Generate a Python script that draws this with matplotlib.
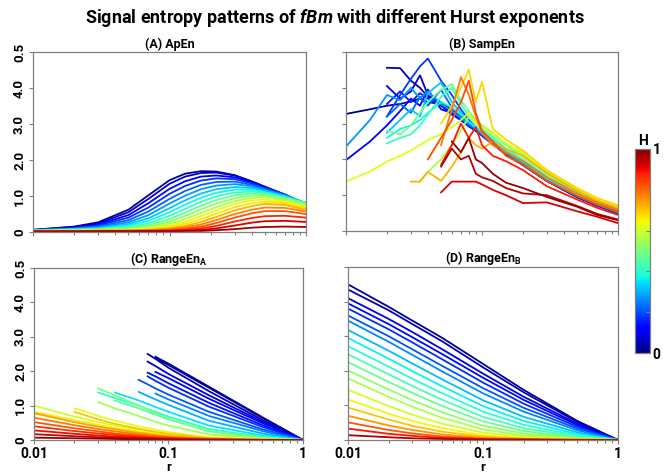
import numpy as np
import matplotlib.pyplot as plt
from matplotlib import colors, cm

plt.rcParams['font.family'] = ['Roboto', 'DejaVu Sans']
plt.rcParams['font.weight'] = 'bold'
plt.rcParams['mathtext.fontset'] = 'custom'
plt.rcParams['mathtext.rm'] = 'Roboto:bold'
plt.rcParams['mathtext.bf'] = 'Roboto:bold'
plt.rcParams['mathtext.it'] = 'Roboto:italic:bold'

n = np.nan

# (A) ApEn
r_apen = [0.01, 0.02, 0.03, 0.05, 0.07, 0.1, 0.13, 0.17, 0.22, 0.3, 0.4, 0.5, 0.7, 1.0]
h_apen = [0.02, 0.07, 0.12, 0.17, 0.22, 0.27, 0.32, 0.37, 0.42, 0.47,
          0.52, 0.57, 0.62, 0.67, 0.72, 0.77, 0.82, 0.87, 0.92, 0.97]
apen = [
    [0.06, 0.15, 0.27, 0.62, 1.02, 1.44, 1.62, 1.69, 1.68, 1.58, 1.40, 1.25, 1.02, 0.72],
    [0.06, 0.14, 0.24, 0.55, 0.92, 1.34, 1.54, 1.64, 1.65, 1.57, 1.41, 1.26, 1.04, 0.74],
    [0.05, 0.12, 0.21, 0.47, 0.80, 1.20, 1.41, 1.54, 1.57, 1.52, 1.38, 1.24, 1.04, 0.76],
    [0.05, 0.11, 0.18, 0.40, 0.68, 1.06, 1.28, 1.43, 1.49, 1.47, 1.35, 1.22, 1.04, 0.78],
    [0.05, 0.10, 0.15, 0.33, 0.57, 0.92, 1.14, 1.31, 1.39, 1.40, 1.31, 1.20, 1.03, 0.79],
    [0.05, 0.09, 0.13, 0.27, 0.47, 0.79, 1.01, 1.19, 1.29, 1.33, 1.27, 1.17, 1.02, 0.80],
    [0.04, 0.08, 0.11, 0.22, 0.38, 0.66, 0.88, 1.07, 1.19, 1.25, 1.22, 1.14, 1.00, 0.81],
    [0.04, 0.07, 0.09, 0.18, 0.31, 0.55, 0.76, 0.95, 1.09, 1.18, 1.17, 1.11, 0.98, 0.81],
    [0.04, 0.06, 0.08, 0.14, 0.24, 0.45, 0.64, 0.84, 0.99, 1.10, 1.12, 1.08, 0.96, 0.80],
    [0.04, 0.05, 0.07, 0.11, 0.19, 0.36, 0.54, 0.73, 0.89, 1.02, 1.07, 1.05, 0.94, 0.79],
    [0.03, 0.05, 0.06, 0.09, 0.15, 0.29, 0.45, 0.63, 0.79, 0.94, 1.01, 1.01, 0.92, 0.77],
    [0.03, 0.04, 0.05, 0.07, 0.12, 0.23, 0.36, 0.53, 0.69, 0.86, 0.95, 0.96, 0.88, 0.74],
    [0.03, 0.04, 0.05, 0.06, 0.09, 0.18, 0.29, 0.44, 0.60, 0.78, 0.88, 0.90, 0.84, 0.70],
    [0.03, 0.03, 0.04, 0.05, 0.07, 0.14, 0.23, 0.36, 0.51, 0.69, 0.80, 0.84, 0.80, 0.66],
    [0.03, 0.03, 0.04, 0.04, 0.06, 0.10, 0.17, 0.28, 0.42, 0.60, 0.72, 0.78, 0.75, 0.62],
    [0.02, 0.03, 0.03, 0.04, 0.05, 0.08, 0.13, 0.21, 0.33, 0.50, 0.62, 0.68, 0.67, 0.57],
    [0.02, 0.02, 0.03, 0.03, 0.04, 0.06, 0.09, 0.15, 0.25, 0.40, 0.52, 0.58, 0.58, 0.50],
    [0.02, 0.02, 0.02, 0.03, 0.03, 0.04, 0.06, 0.10, 0.17, 0.29, 0.39, 0.44, 0.45, 0.40],
    [0.02, 0.02, 0.02, 0.02, 0.03, 0.03, 0.04, 0.06, 0.10, 0.18, 0.26, 0.30, 0.31, 0.28],
    [0.01, 0.01, 0.02, 0.02, 0.02, 0.02, 0.03, 0.03, 0.05, 0.08, 0.12, 0.14, 0.15, 0.14],
]

# (B) SampEn
r_samp = [0.01, 0.015, 0.02, 0.025, 0.03, 0.035, 0.04, 0.05, 0.06, 0.07,
          0.08, 0.09, 0.1, 0.12, 0.15, 0.2, 0.3, 0.5, 0.7, 1.0]
h_samp = [0.02, 0.05, 0.08, 0.12, 0.15, 0.18, 0.22, 0.27, 0.32, 0.37, 0.42,
          0.48, 0.55, 0.62, 0.68, 0.72, 0.78, 0.83, 0.88, 0.92, 0.95, 0.98]
samp = [
    [3.27, 3.40, 3.50, 3.55, 3.62, 3.70, 3.60, 3.55, 3.30, 3.10, 2.95, 2.80, 2.70, 2.45, 2.15, 1.85, 1.40, 0.95, 0.72, 0.50],
    [n, n, 4.56, 4.55, 4.20, 4.00, 3.75, 3.60, 3.40, 3.20, 3.00, 2.85, 2.75, 2.50, 2.20, 1.88, 1.42, 0.96, 0.72, 0.50],
    [n, n, 4.05, 3.70, 3.90, 4.35, 3.80, 3.50, 3.45, 3.15, 3.05, 2.85, 2.70, 2.45, 2.18, 1.85, 1.40, 0.95, 0.71, 0.50],
    [1.98, 2.50, 2.95, 3.35, 3.70, 3.50, 3.95, 3.40, 3.30, 3.15, 2.95, 2.80, 2.68, 2.45, 2.15, 1.85, 1.40, 0.95, 0.72, 0.51],
    [n, n, 3.55, 3.90, 3.60, 3.85, 3.70, 3.50, 3.25, 3.10, 2.92, 2.80, 2.66, 2.42, 2.14, 1.84, 1.40, 0.96, 0.72, 0.51],
    [n, n, 3.20, 3.80, 4.25, 4.60, 4.82, 4.20, 3.80, 3.40, 3.10, 2.90, 2.75, 2.50, 2.20, 1.88, 1.42, 0.97, 0.73, 0.52],
    [n, n, 3.20, 3.55, 3.30, 3.75, 3.50, 3.95, 3.45, 3.20, 3.00, 2.85, 2.72, 2.48, 2.18, 1.87, 1.42, 0.97, 0.73, 0.52],
    [2.36, 3.10, 3.80, 3.65, 4.00, 3.70, 3.90, 3.55, 3.35, 3.15, 2.98, 2.84, 2.70, 2.47, 2.18, 1.88, 1.43, 0.98, 0.74, 0.53],
    [n, n, 2.75, 3.10, 3.40, 3.20, 3.85, 4.15, 3.60, 3.30, 3.05, 2.90, 2.75, 2.52, 2.22, 1.92, 1.46, 1.00, 0.75, 0.54],
    [n, n, 2.60, 2.85, 2.95, 3.10, 3.30, 3.60, 3.45, 3.25, 3.05, 2.90, 2.78, 2.55, 2.25, 1.95, 1.48, 1.02, 0.77, 0.55],
    [n, n, 2.45, 2.60, 2.70, 2.95, 3.25, 3.75, 4.00, 3.55, 3.20, 3.00, 2.85, 2.62, 2.30, 2.00, 1.52, 1.06, 0.80, 0.58],
    [n, n, 2.80, 2.70, 2.95, 3.30, 3.60, 3.95, 4.10, 3.65, 3.35, 3.10, 2.95, 2.70, 2.40, 2.08, 1.58, 1.10, 0.84, 0.62],
    [n, n, n, n, n, 1.40, 1.65, 2.00, 2.40, 2.80, 3.20, 3.05, 2.95, 2.75, 2.45, 2.15, 1.65, 1.16, 0.88, 0.66],
    [1.38, 1.66, 1.94, 2.10, 2.25, 2.40, 2.54, 2.70, 2.90, 3.10, 3.30, 3.00, 2.90, 2.70, 2.45, 2.20, 1.68, 1.20, 0.92, 0.70],
    [n, n, n, n, n, n, n, 3.00, 3.50, 4.00, 4.51, 3.60, 4.17, 2.85, 2.55, 2.25, 1.70, 1.20, 0.92, 0.72],
    [n, n, n, n, 1.38, 1.38, 1.65, 1.40, 1.80, 2.20, 2.60, 2.40, 2.30, 2.50, 2.30, 2.10, 1.62, 1.12, 0.85, 0.64],
    [n, n, n, n, n, n, n, 2.40, 3.40, 4.30, 3.80, 3.20, 2.75, 2.40, 2.20, 1.95, 1.50, 1.05, 0.80, 0.60],
    [n, n, n, n, n, n, 2.00, 2.60, 3.10, 3.60, 4.20, 3.30, 2.80, 2.50, 2.10, 1.85, 1.40, 0.98, 0.74, 0.55],
    [n, n, n, n, n, n, n, 1.85, 2.40, 3.00, 2.60, 2.90, 2.40, 2.10, 1.95, 1.70, 1.25, 0.88, 0.65, 0.45],
    [n, n, n, n, n, n, n, 1.08, 1.38, 1.38, 1.38, 1.38, 1.30, 1.15, 1.00, 0.78, 0.80, 0.55, 0.40, 0.22],
    [n, n, n, n, n, n, n, 1.80, 2.30, 2.00, 2.10, 1.60, 1.50, 1.40, 1.20, 1.05, 1.00, 0.70, 0.48, 0.32],
    [n, n, n, n, n, n, n, n, 2.50, 2.20, 2.60, 2.00, 1.90, 1.60, 1.35, 1.20, 0.95, 0.68, 0.45, 0.30],
]

# (C) RangeEn_A
r_ra = [0.01, 0.02, 0.03, 0.04, 0.06, 0.07, 0.08, 0.1, 0.2, 0.5, 1.0]
h_ra = [0.02, 0.03, 0.05, 0.08, 0.11, 0.14, 0.17, 0.21, 0.25, 0.30, 0.35, 0.40,
        0.45, 0.50, 0.55, 0.60, 0.62, 0.66, 0.70, 0.74, 0.78, 0.82, 0.86, 0.90,
        0.94, 0.98]
range_a = [
    [n, n, n, n, n, n, 2.42, 2.22, 1.55, 0.66, 0.0],
    [n, n, n, n, n, n, 2.38, 2.18, 1.52, 0.64, 0.0],
    [n, n, n, n, n, 2.50, 2.36, 2.10, 1.42, 0.58, 0.0],
    [n, n, n, n, n, 2.28, 2.15, 1.92, 1.30, 0.53, 0.0],
    [n, n, n, n, n, n, 1.98, 1.80, 1.20, 0.49, 0.0],
    [n, n, n, n, n, 1.96, 1.85, 1.65, 1.08, 0.43, 0.0],
    [n, n, n, n, n, 1.85, 1.72, 1.52, 0.97, 0.38, 0.0],
    [n, n, n, n, 1.75, 1.62, 1.50, 1.32, 0.82, 0.31, 0.0],
    [n, n, n, n, n, n, 1.35, 1.18, 0.70, 0.26, 0.0],
    [n, n, n, n, 1.40, 1.28, 1.18, 1.02, 0.56, 0.19, 0.0],
    [n, n, n, 1.38, 1.15, 1.05, 0.96, 0.82, 0.42, 0.13, 0.0],
    [n, n, 1.38, 1.22, 1.00, 0.90, 0.82, 0.68, 0.32, 0.09, 0.0],
    [n, n, n, 1.15, 0.92, 0.82, 0.74, 0.60, 0.26, 0.07, 0.0],
    [n, n, 1.50, 1.30, 1.00, 0.88, 0.78, 0.62, 0.25, 0.06, 0.0],
    [n, n, 1.10, 0.92, 0.70, 0.61, 0.53, 0.42, 0.16, 0.04, 0.0],
    [1.00, 0.68, 0.52, 0.42, 0.30, 0.26, 0.22, 0.17, 0.06, 0.02, 0.0],
    [n, 0.92, 0.70, 0.56, 0.40, 0.35, 0.30, 0.23, 0.08, 0.02, 0.0],
    [0.82, 0.58, 0.44, 0.35, 0.25, 0.21, 0.18, 0.14, 0.05, 0.01, 0.0],
    [n, 0.82, 0.60, 0.47, 0.33, 0.28, 0.24, 0.18, 0.06, 0.01, 0.0],
    [0.78, 0.52, 0.39, 0.31, 0.21, 0.18, 0.15, 0.11, 0.04, 0.01, 0.0],
    [0.65, 0.43, 0.32, 0.25, 0.17, 0.14, 0.12, 0.09, 0.03, 0.01, 0.0],
    [0.52, 0.34, 0.25, 0.19, 0.13, 0.11, 0.09, 0.07, 0.02, 0.00, 0.0],
    [0.40, 0.26, 0.19, 0.15, 0.10, 0.08, 0.07, 0.05, 0.02, 0.00, 0.0],
    [0.28, 0.18, 0.13, 0.10, 0.07, 0.06, 0.05, 0.04, 0.01, 0.00, 0.0],
    [0.17, 0.11, 0.08, 0.06, 0.04, 0.04, 0.03, 0.02, 0.01, 0.00, 0.0],
    [0.07, 0.05, 0.04, 0.03, 0.02, 0.02, 0.01, 0.01, 0.00, 0.00, 0.0],
]

# (D) RangeEn_B
r_rb = [0.01, 0.02, 0.03, 0.05, 0.1, 0.2, 0.5, 1.0]
h_rb = [0.02, 0.05, 0.09, 0.13, 0.17, 0.21, 0.26, 0.31, 0.36, 0.40, 0.44,
        0.48, 0.52, 0.56, 0.60, 0.65, 0.70, 0.75, 0.82, 0.89, 0.96]
range_b = [
    [4.50, 3.85, 3.45, 2.95, 2.20, 1.45, 0.55, 0.0],
    [4.35, 3.75, 3.35, 2.85, 2.10, 1.38, 0.52, 0.0],
    [4.10, 3.50, 3.12, 2.62, 1.92, 1.25, 0.47, 0.0],
    [3.95, 3.35, 2.97, 2.48, 1.80, 1.16, 0.43, 0.0],
    [3.80, 3.20, 2.82, 2.33, 1.66, 1.05, 0.38, 0.0],
    [3.60, 3.00, 2.62, 2.14, 1.50, 0.93, 0.33, 0.0],
    [3.45, 2.84, 2.46, 1.98, 1.35, 0.82, 0.28, 0.0],
    [3.18, 2.58, 2.21, 1.75, 1.15, 0.67, 0.22, 0.0],
    [2.95, 2.35, 1.99, 1.55, 0.98, 0.55, 0.17, 0.0],
    [2.71, 2.12, 1.77, 1.35, 0.82, 0.44, 0.13, 0.0],
    [2.48, 1.90, 1.56, 1.16, 0.67, 0.34, 0.10, 0.0],
    [2.25, 1.68, 1.36, 0.98, 0.54, 0.26, 0.07, 0.0],
    [2.01, 1.46, 1.15, 0.80, 0.41, 0.19, 0.05, 0.0],
    [1.78, 1.25, 0.96, 0.64, 0.31, 0.13, 0.04, 0.0],
    [1.45, 0.98, 0.73, 0.47, 0.21, 0.09, 0.03, 0.0],
    [1.17, 0.76, 0.55, 0.34, 0.14, 0.06, 0.02, 0.0],
    [0.94, 0.59, 0.41, 0.24, 0.10, 0.04, 0.01, 0.0],
    [0.70, 0.42, 0.29, 0.16, 0.06, 0.03, 0.01, 0.0],
    [0.51, 0.29, 0.19, 0.10, 0.04, 0.02, 0.01, 0.0],
    [0.33, 0.18, 0.12, 0.06, 0.03, 0.01, 0.00, 0.0],
    [0.14, 0.08, 0.05, 0.03, 0.01, 0.01, 0.00, 0.0],
]

y_ticks = [0, 1, 2, 3, 4, 5]
y_labels = ['0', '1.0', '2.0', '3.0', '4.0', '0.5']
x_ticks = [0.01, 0.1, 1]
x_labels = ['0.01', '0.1', '1']

cmap = plt.get_cmap('jet')
gris = '#7f7f7f'


def dibujar(ax, r, h_vals, curvas, titulo, con_y, con_x):
    for h, v in zip(h_vals, curvas):
        ax.plot(r, v, color=cmap(h), lw=1.3)
    ax.set_xscale('log')
    ax.set_xlim(0.01, 1)
    ax.set_ylim(0, 5)
    ax.set_title(titulo, fontsize=9, fontweight='bold', pad=3)
    ax.set_yticks(y_ticks)
    ax.set_xticks(x_ticks)
    if con_y:
        ax.set_yticklabels(y_labels, rotation=90, va='center', fontsize=9.5, fontweight='bold')
    else:
        ax.set_yticklabels([])
    if con_x:
        ax.set_xticklabels(x_labels, fontsize=10, fontweight='bold')
        ax.set_xlabel('r', fontsize=9.5, fontweight='bold', labelpad=0)
    else:
        ax.set_xticklabels([])
    ax.tick_params(which='both', colors=gris, labelcolor='black', length=3, width=0.8, pad=2)
    ax.tick_params(which='minor', length=2)
    for s in ax.spines.values():
        s.set_color(gris)
        s.set_linewidth(0.9)


fig = plt.figure(figsize=(6.7, 4.76), dpi=100)

ax_a = fig.add_axes([0.0493, 0.5126, 0.4075, 0.378])
ax_b = fig.add_axes([0.5164, 0.5147, 0.406, 0.376])
ax_c = fig.add_axes([0.0507, 0.0756, 0.4015, 0.3613])
ax_d = fig.add_axes([0.5194, 0.0756, 0.403, 0.3634])

dibujar(ax_a, r_apen, h_apen, apen, '(A) ApEn', True, False)
dibujar(ax_b, r_samp, h_samp, samp, '(B) SampEn', False, False)
dibujar(ax_c, r_ra, h_ra, range_a, r'(C) RangeEn$_\mathbf{A}$', True, True)
dibujar(ax_d, r_rb, h_rb, range_b, r'(D) RangeEn$_\mathbf{B}$', False, True)

fig.text(0.5, 1 - 18 / 476,
         r'Signal entropy patterns of $\mathit{fBm}$ with different Hurst exponents',
         ha='center', va='center', fontsize=13, fontweight='bold')

# barra de color
cax = fig.add_axes([0.9478, 0.2584, 0.0224, 0.4286])
sm = cm.ScalarMappable(norm=colors.Normalize(0, 1), cmap=cmap)
cb = fig.colorbar(sm, cax=cax, ticks=[0, 0.2, 0.4, 0.6, 0.8, 1])
cb.ax.set_yticklabels(['0', '', '', '', '', '1'], fontsize=10, fontweight='bold')
cb.ax.tick_params(direction='in', length=3, colors=gris, labelcolor='black', pad=2)
cb.outline.set_edgecolor(gris)
cb.outline.set_linewidth(0.9)
cax.set_title('H', fontsize=10, fontweight='bold', pad=3)

fig.savefig('out.png', dpi=100)
